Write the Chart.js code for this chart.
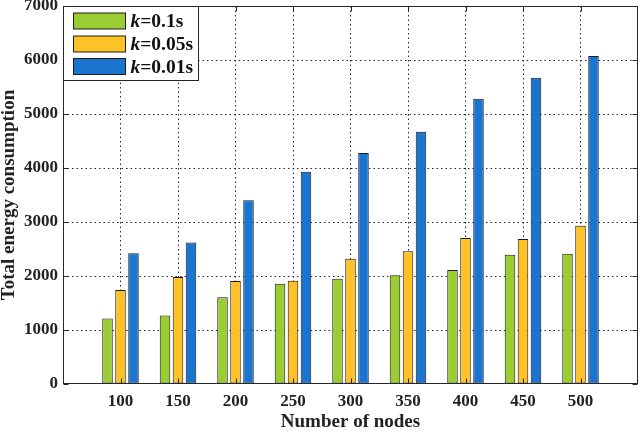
<!DOCTYPE html>
<html>
<head>
<meta charset="utf-8">
<script src="https://cdn.jsdelivr.net/npm/chart.js@4/dist/chart.umd.min.js"></script>
<style>
  html, body { margin: 0; padding: 0; background: #fff; }
  #wrap { width: 640px; height: 432px; }
</style>
</head>
<body>
<div id="wrap"><canvas id="c" width="640" height="432"></canvas></div>
<script>
// ---- data ----
const categories = [100, 150, 200, 250, 300, 350, 400, 450, 500];
const seriesNames = ['k=0.1s', 'k=0.05s', 'k=0.01s'];
const energyK01  = [1215, 1270, 1605, 1858, 1950, 2012, 2111, 2395, 2413];
const energyK005 = [1740, 1980, 1907, 1910, 2321, 2457, 2704, 2685, 2931];
const energyK001 = [2420, 2620, 3401, 3932, 4278, 4673, 5284, 5673, 6074];
const yTicks = [0, 1000, 2000, 3000, 4000, 5000, 6000, 7000];
const xTitle = 'Number of nodes';
const yTitle = 'Total energy consumption';

// ---- styling ----
const colors = ['rgb(155,205,50)', 'rgb(255,194,38)', 'rgb(26,117,208)'];
const axisColor = '#262626';
const FONT = '"Liberation Serif", "Times New Roman", serif';

// pad with an empty slot on each side (MATLAB-like x limits)
const labels = [''].concat(categories.map(String), ['']);
const pad = arr => [null].concat(arr, [null]);
const seriesValues = [energyK01, energyK005, energyK001];

const datasets = seriesValues.map((vals, i) => ({
  label: seriesNames[i],
  data: pad(vals),
  backgroundColor: colors[i],
  borderColor: '#1a1a1a',
  borderWidth: 1,
  borderSkipped: false,
  categoryPercentage: 0.678,
  barPercentage: 0.81
}));

const boxPlugin = {
  id: 'matlabBox',
  afterDatasetsDraw(chart) {
    const {ctx, chartArea: a, scales} = chart;
    const L = Math.round(a.left) + 0.5, R = Math.round(a.right) - 0.5;
    const T = Math.round(a.top) + 0.5, B = Math.round(a.bottom) - 0.5;
    ctx.save();
    ctx.strokeStyle = axisColor;
    ctx.lineWidth = 1;
    ctx.setLineDash([]);
    ctx.strokeRect(L, T, R - L, B - T);
    const tl = 5;
    ctx.beginPath();
    scales.x.ticks.forEach((t, i) => {
      if (i === 0 || i === labels.length - 1) return;
      const x = Math.round(scales.x.getPixelForTick(i)) + 0.5;
      ctx.moveTo(x, B); ctx.lineTo(x, B - tl);
      ctx.moveTo(x, T); ctx.lineTo(x, T + tl);
    });
    yTicks.forEach(v => {
      const y = Math.round(scales.y.getPixelForValue(v)) + 0.5;
      ctx.moveTo(L, y); ctx.lineTo(L + tl, y);
      ctx.moveTo(R, y); ctx.lineTo(R - tl, y);
    });
    ctx.stroke();
    ctx.restore();
  },
  afterDraw(chart) {
    // legend box, MATLAB style, with italic k
    const {ctx, chartArea: a} = chart;
    const x0 = Math.round(a.left) + 0.5, y0 = Math.round(a.top) + 0.5;
    const w = 135, h = 74;
    ctx.save();
    ctx.fillStyle = '#fff';
    ctx.fillRect(x0, y0, w, h);
    ctx.strokeStyle = axisColor;
    ctx.lineWidth = 1;
    ctx.strokeRect(x0, y0, w, h);
    const rowCenters = [15, 38, 60.5];
    chart.data.datasets.forEach((ds, i) => {
      const cy = Math.round(a.top) + rowCenters[i];
      ctx.fillStyle = ds.backgroundColor;
      ctx.fillRect(x0 + 10, cy - 8, 52, 16);
      ctx.strokeStyle = '#1a1a1a';
      ctx.strokeRect(x0 + 10, cy - 8, 52, 16);
      ctx.fillStyle = '#111';
      ctx.textBaseline = 'middle';
      ctx.textAlign = 'left';
      const lbl = ds.label;
      const first = lbl.charAt(0), rest = lbl.slice(1);
      ctx.font = 'italic bold 19.5px ' + FONT;
      ctx.fillText(first, x0 + 67, cy + 1);
      const fw = ctx.measureText(first).width;
      ctx.font = 'bold 19.5px ' + FONT;
      ctx.fillText(rest, x0 + 67 + fw, cy + 1);
    });
    ctx.restore();
  }
};

new Chart(document.getElementById('c'), {
  type: 'bar',
  data: { labels, datasets },
  options: {
    responsive: false,
    animation: false,
    devicePixelRatio: 1,
    layout: { padding: { left: 0, right: 2, top: 6, bottom: 0 } },
    plugins: { legend: { display: false }, tooltip: { enabled: false } },
    scales: {
      x: {
        offset: false,
        afterFit: s => { s.height = 48; s.paddingLeft = 0; s.paddingRight = 0; },
        grid: {
          offset: false,
          drawTicks: false,
          color: c => (c.index === 0 || c.index === labels.length - 1) ? 'rgba(0,0,0,0)' : axisColor,
          lineWidth: 1
        },
        border: { display: false, dash: [1.5, 3] },
        ticks: {
          autoSkip: false, maxRotation: 0, padding: 9,
          color: '#222',
          font: { family: FONT, size: 17, weight: 'bold', lineHeight: 1.0 }
        },
        title: {
          display: true, text: xTitle, color: '#222',
          padding: { top: 0, bottom: 0 },
          font: { family: FONT, size: 19, weight: 'bold', lineHeight: 1.0 }
        }
      },
      y: {
        min: yTicks[0], max: yTicks[yTicks.length - 1],
        afterFit: s => { s.width = 63; s.paddingTop = 0; s.paddingBottom = 0; },
        afterBuildTicks: s => { s.ticks = yTicks.map(v => ({ value: v })); },
        grid: {
          drawTicks: false,
          color: c => (c.tick && (c.tick.value === yTicks[0] || c.tick.value === yTicks[yTicks.length - 1])) ? 'rgba(0,0,0,0)' : axisColor,
          lineWidth: 1
        },
        border: { display: false, dash: [1.5, 3] },
        ticks: {
          padding: 5, color: '#222',
          callback: v => String(v),
          font: { family: FONT, size: 17, weight: 'bold', lineHeight: 1.0 }
        },
        title: {
          display: true, text: yTitle, color: '#222',
          padding: { top: 0, bottom: 0 },
          font: { family: FONT, size: 19, weight: 'bold', lineHeight: 1.0 }
        }
      }
    }
  },
  plugins: [boxPlugin]
});
</script>
</body>
</html>
